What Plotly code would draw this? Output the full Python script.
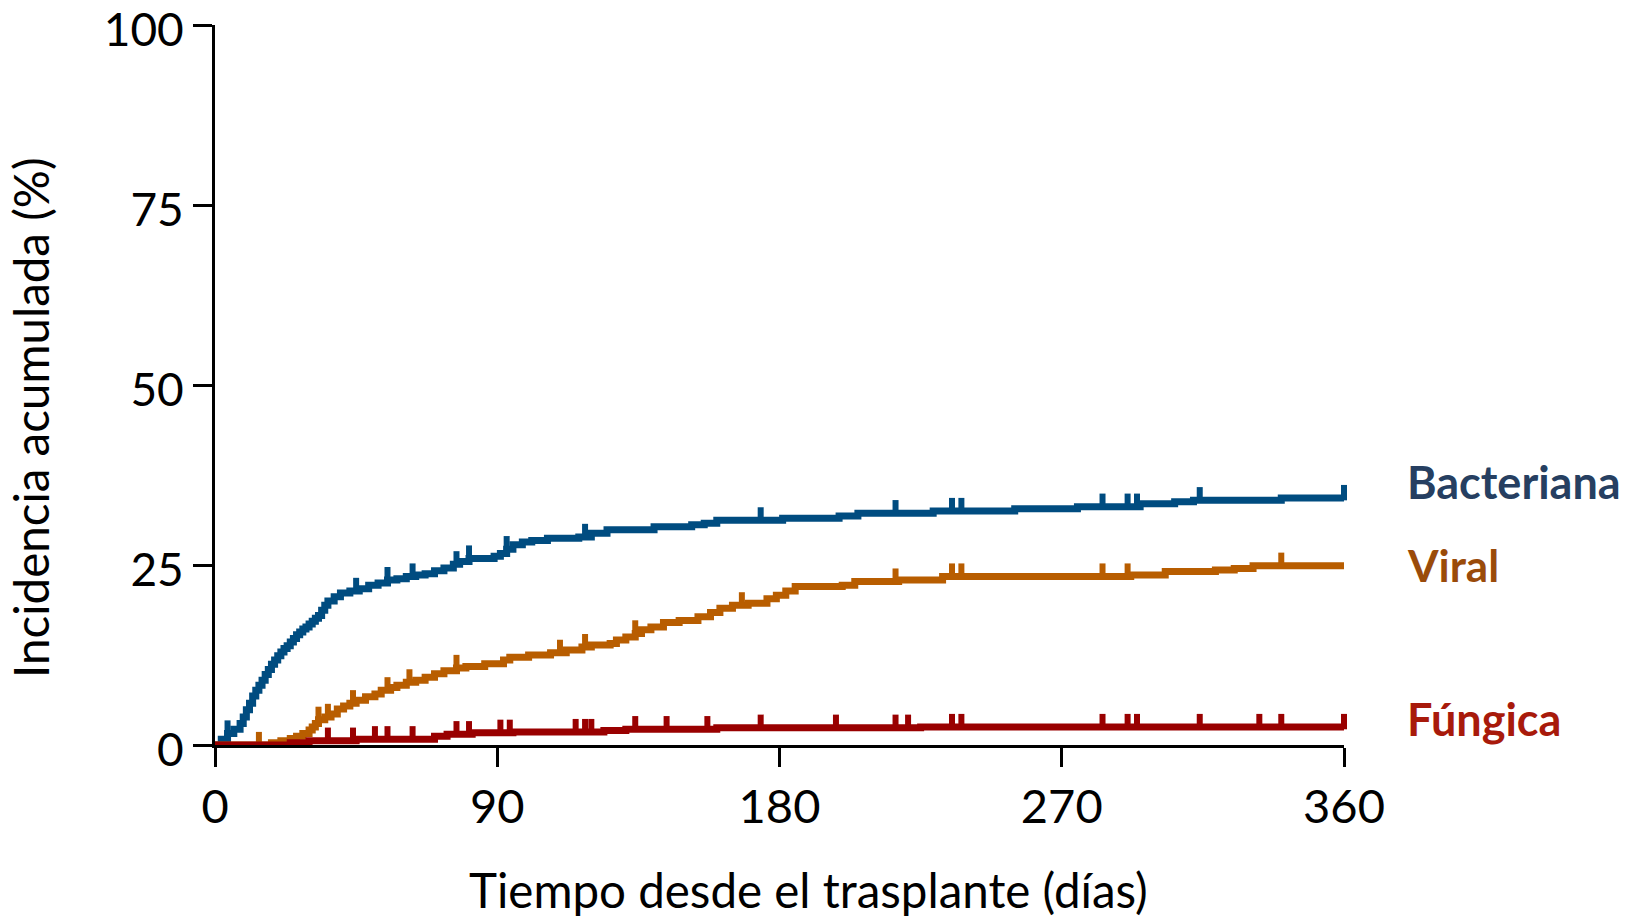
import numpy as np
import plotly.graph_objects as go

# ---------------- data ----------------
x_ticks = [0, 90, 180, 270, 360]
y_ticks = [0, 25, 50, 75, 100]

# Bacteriana: step times (days) and cumulative incidence (%)
bact_days = [0, 2, 4, 6, 8, 9, 10, 11, 12, 13, 14, 15, 16, 17, 18, 19, 20, 21, 22, 23, 24, 25,
             26, 27, 28, 29, 30, 31, 32, 33, 34, 35, 36, 38, 40, 43, 46, 49, 52, 55, 58, 61, 64,
             67, 70, 73, 76, 78, 81, 89, 91, 93, 95, 98, 101, 106, 116, 120, 125, 140, 152, 156,
             160, 181, 199, 205, 229, 255, 275, 295, 306, 312, 340]
bact_inc = [0, 0.8, 1.6, 2.2, 3.0, 3.9, 4.9, 5.8, 6.8, 7.6, 8.3, 9.0, 9.8, 10.5, 11.2, 11.8, 12.4,
            12.9, 13.4, 13.8, 14.3, 14.8, 15.3, 15.7, 16.1, 16.4, 16.8, 17.2, 17.6, 18.0, 18.7,
            19.4, 20.0, 20.6, 21.1, 21.4, 21.7, 22.2, 22.5, 22.9, 23.1, 23.4, 23.6, 23.8, 24.2,
            24.6, 25.1, 25.5, 25.9, 26.2, 26.6, 27.2, 27.8, 28.2, 28.4, 28.7, 28.9, 29.4, 29.9,
            30.3, 30.6, 30.8, 31.2, 31.5, 31.8, 32.2, 32.5, 32.8, 33.1, 33.5, 33.8, 34.0, 34.3]
bact_censored = [4, 45, 55, 63, 77, 81, 93, 118, 174, 217, 235, 238, 283, 291, 294, 314, 360]

# Viral
viral_days = [0, 18, 21, 24, 26, 28, 30, 31, 32, 33, 35, 37, 39, 41, 43, 45, 48, 51, 53, 56, 58,
              61, 64, 67, 70, 73, 77, 80, 86, 92, 94, 100, 107, 112, 117, 120, 126, 128, 131, 134,
              136, 139, 143, 148, 154, 158, 161, 165, 170, 176, 179, 182, 185, 200, 204, 218, 232,
              292, 303, 319, 325, 331]
viral_inc = [0, 0.3, 0.6, 0.9, 1.2, 1.6, 2.1, 2.5, 3.0, 3.5, 3.9, 4.3, 5.0, 5.4, 5.8, 6.2, 6.7,
             7.1, 7.6, 8.0, 8.3, 8.7, 9.0, 9.4, 9.9, 10.3, 10.7, 10.9, 11.3, 11.8, 12.2, 12.5,
             12.8, 13.2, 13.6, 13.9, 14.1, 14.6, 15.0, 15.5, 16.0, 16.4, 17.0, 17.3, 17.8, 18.4,
             19.0, 19.4, 19.7, 20.3, 20.8, 21.4, 22.0, 22.2, 22.7, 22.9, 23.4, 23.6, 24.1, 24.3,
             24.5, 24.9]
viral_censored = [14, 33, 36, 44, 55, 62, 77, 110, 118, 134, 168, 217, 235, 238, 283, 291, 340]

# Fúngica
fung_days = [0, 24, 30, 45, 70, 74, 82, 95, 124, 131, 160, 225]
fung_inc = [0, 0.3, 0.6, 0.8, 1.2, 1.5, 1.7, 1.8, 2.0, 2.2, 2.4, 2.5]
fung_censored = [36, 44, 51, 55, 63, 77, 81, 91, 94, 115, 118, 120, 134, 144, 157, 174, 198, 217,
                 221, 235, 238, 283, 291, 294, 314, 333, 340, 360]

# ---------------- styles ----------------
FONT = "Lato"
X_END = 360
CENSOR_LIFT = 0.75  # vertical lift of censor ticks above the line (in %)

series = [
    ("Bacteriana", bact_days, bact_inc, bact_censored, "#004C80", "#263F61"),
    ("Viral", viral_days, viral_inc, viral_censored, "#B85D00", "#9A4B0A"),
    ("Fúngica", fung_days, fung_inc, fung_censored, "#990000", "#A81A0B"),
]
label_y = {"Bacteriana": 36.5, "Viral": 25.0, "Fúngica": 3.6}
label_size = {"Bacteriana": 45, "Viral": 44, "Fúngica": 45}

fig = go.Figure()
annotations = []
for name, days, inc, cens, lc, tc in series:
    xs = list(days) + [X_END]
    ys = list(inc) + [inc[-1]]
    fig.add_trace(go.Scatter(x=xs, y=ys, mode="lines", line=dict(color=lc, width=7, shape="hv"),
                             showlegend=False, hoverinfo="skip"))
    d = np.array(days)
    v = np.array(inc)
    c = np.array(cens, dtype=float)
    idx = np.searchsorted(d, c, side="right") - 1
    cy = v[idx] + CENSOR_LIFT
    fig.add_trace(go.Scatter(x=c, y=cy, mode="markers",
                             marker=dict(symbol="line-ns", size=11, color=lc,
                                         line=dict(color=lc, width=6)),
                             showlegend=False, hoverinfo="skip", cliponaxis=False))
    annotations.append(dict(x=1.054, xref="paper", y=label_y[name], yref="y", text=f"<b>{name}</b>",
                            showarrow=False, xanchor="left", yanchor="middle",
                            font=dict(family=FONT, size=label_size[name], color=tc)))

annotations.append(dict(x=0.526, y=-0.201, xref="paper", yref="paper",
                        text="Tiempo desde el trasplante (días)", showarrow=False,
                        xanchor="center", yanchor="middle",
                        font=dict(family=FONT, size=47.5, color="black")))
annotations.append(dict(x=-0.163, y=0.4556, xref="paper", yref="paper",
                        text="Incidencia acumulada (%)", showarrow=False, textangle=-90,
                        xanchor="center", yanchor="middle",
                        font=dict(family=FONT, size=47.5, color="black")))

axis_common = dict(showline=True, linewidth=3, linecolor="black", ticks="outside", ticklen=19,
                   tickwidth=3, tickcolor="black", showgrid=False, zeroline=False,
                   ticklabeloverflow="allow", automargin=False)

fig.update_layout(
    width=1633, height=917,
    margin=dict(l=215, r=289, t=25, b=172, autoexpand=False),
    plot_bgcolor="white", paper_bgcolor="white",
    xaxis=dict(range=[0, 360], tickvals=x_ticks, ticktext=[str(t) for t in x_ticks],
               tickfont=dict(family=FONT, size=47, color="black"), **axis_common),
    yaxis=dict(range=[0, 100], tickvals=y_ticks, ticktext=[str(t) for t in y_ticks],
               ticklabelshift=5,
               tickfont=dict(family=FONT, size=46, color="black"), **axis_common),
    annotations=annotations,
)

fig.write_html("out.html")
